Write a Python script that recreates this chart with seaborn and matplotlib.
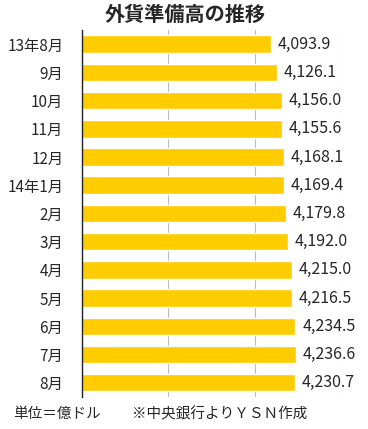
import seaborn as sns
import pandas as pd
import matplotlib.pyplot as plt

months = ["13年8月", "9月", "10月", "11月", "12月", "14年1月", "2月",
          "3月", "4月", "5月", "6月", "7月", "8月"]
reserves = [4093.9, 4126.1, 4156.0, 4155.6, 4168.1, 4169.4, 4179.8,
            4192.0, 4215.0, 4216.5, 4234.5, 4236.6, 4230.7]
x_ticks = [3000, 3500, 4000, 4500]

sns.set_style("white")
plt.rcParams["font.family"] = ["Noto Sans CJK JP", "DejaVu Sans"]

df = pd.DataFrame({"month": months, "reserve": reserves})

fig = plt.figure(figsize=(3.68, 4.29), dpi=100)
ax = fig.add_axes([0.223, 0.075, 0.704, 0.855])

sns.barplot(data=df, x="reserve", y="month", color="#FFCC00",
            saturation=1, width=0.62, orient="h", ax=ax)

ax.set_xlim(x_ticks[0], x_ticks[-1])
ax.set_xticks(x_ticks)
ax.set_xticklabels([])
ax.tick_params(axis="x", length=0)
ax.tick_params(axis="y", length=0, labelsize=11, pad=13.5)
ax.xaxis.grid(True, color="#bbbbbb", linewidth=0.8)
ax.set_axisbelow(True)
ax.set_xlabel("")
ax.set_ylabel("")

for side in ["top", "right", "bottom"]:
    ax.spines[side].set_visible(False)
ax.spines["left"].set_color("#222222")
ax.spines["left"].set_linewidth(1.0)

ax.bar_label(ax.containers[0], labels=[f"{v:,.1f}" for v in reserves],
             padding=5, fontsize=11.5)

fig.text(0.503, 0.967, "外貨準備高の推移", ha="center", va="center",
         fontsize=14.5, fontweight="bold")
fig.text(0.035, 0.035, "単位＝億ドル", ha="left", va="center", fontsize=10.5)
fig.text(0.359, 0.035, "※中央銀行よりＹＳＮ作成", ha="left", va="center",
         fontsize=10.5)

fig.savefig("out.png", dpi=100)
